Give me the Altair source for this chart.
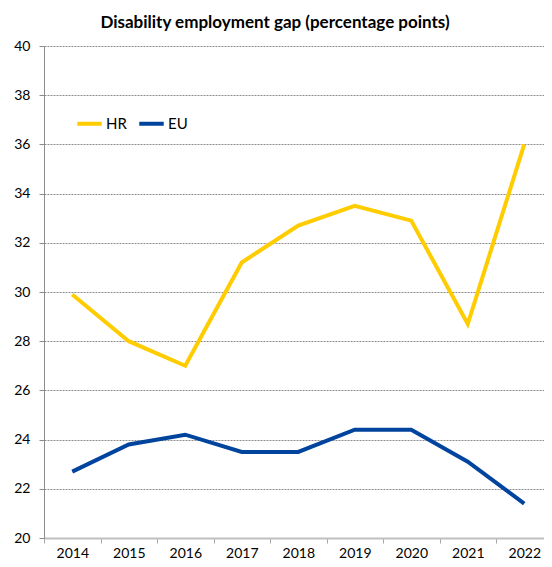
import altair as alt
import pandas as pd

years = [2014, 2015, 2016, 2017, 2018, 2019, 2020, 2021, 2022]
hr_values = [29.9, 28.0, 27.0, 31.2, 32.7, 33.5, 32.9, 28.7, 36.0]
eu_values = [22.7, 23.8, 24.2, 23.5, 23.5, 24.4, 24.4, 23.1, 21.4]
series_names = ["HR", "EU"]
series_colors = ["#FFCC00", "#00449E"]
y_ticks = list(range(20, 41, 2))

rows = []
for name, vals in zip(series_names, [hr_values, eu_values]):
    for y, v in zip(years, vals):
        rows.append({"year": y, "value": v, "series": name})
df = pd.DataFrame(rows)

FONT = "Lato"
W, H = 500, 492
px_per_year = 56.5
x_max = 2013.5 + W / px_per_year

chart = alt.Chart(df).mark_line(strokeWidth=4, clip=True).encode(
    x=alt.X("year:Q",
            scale=alt.Scale(domain=[2013.5, x_max], nice=False, zero=False),
            axis=alt.Axis(values=years, format="d", title=None, grid=False,
                          tickOffset=-px_per_year / 2, labelOffset=px_per_year / 2,
                          labelFlush=False, labelOverlap=False,
                          domainColor="#BFBFBF", domainWidth=2,
                          tickColor="#A6A6A6", tickSize=5, labelPadding=3,
                          labelFontSize=14, labelFont=FONT, labelColor="#000000")),
    y=alt.Y("value:Q",
            scale=alt.Scale(domain=[20, 40], nice=False, zero=False),
            axis=alt.Axis(values=y_ticks, title=None, grid=True,
                          gridColor="#8C8C8C", gridDash=[2, 1], gridWidth=1,
                          domainColor="#8C8C8C", domainWidth=1,
                          tickColor="#8C8C8C", tickSize=5, labelPadding=9,
                          labelFontSize=14, labelFont=FONT, labelColor="#000000")),
    color=alt.Color("series:N",
                    scale=alt.Scale(domain=series_names, range=series_colors),
                    legend=alt.Legend(title=None, orient="none", direction="horizontal",
                                      legendX=31, legendY=63,
                                      symbolType="stroke", symbolStrokeWidth=4,
                                      symbolSize=600, columnPadding=4,
                                      labelFontSize=15, labelFont=FONT,
                                      labelColor="#000000", labelOffset=2)),
).properties(
    width=W, height=H,
    title=alt.TitleParams("Disability employment gap (percentage points)",
                          font=FONT, fontSize=17, fontWeight="bold",
                          color="#000000", anchor="middle", dx=-19, offset=7),
    autosize=alt.AutoSizeParams(type="none"),
    padding={"left": 36, "top": 38, "right": 0, "bottom": 21},
).configure_view(stroke=None)

chart.save("out.html", embed_options={"renderer": "svg", "actions": False})
